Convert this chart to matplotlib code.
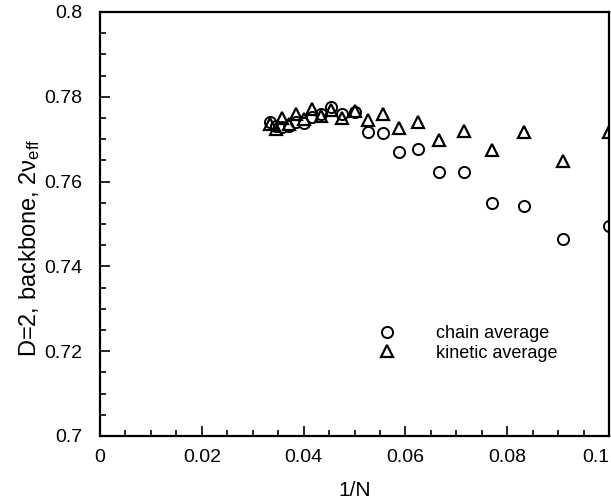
import matplotlib
matplotlib.use('Agg')
import matplotlib.pyplot as plt
from matplotlib.ticker import MultipleLocator

plt.rcParams['font.family'] = ['Liberation Sans', 'DejaVu Sans']
plt.rcParams['mathtext.fontset'] = 'custom'
plt.rcParams['mathtext.rm'] = 'Liberation Sans'
plt.rcParams['mathtext.it'] = 'Liberation Sans:italic'

# Dados: comprimento da cadeia N = 30 ... 10
N = [30, 29, 28, 27, 26, 25, 24, 23, 22, 21, 20,
     19, 18, 17, 16, 15, 14, 13, 12, 11, 10]
inv_N = [1.0 / n for n in N]

chain_avg = [0.7740, 0.7730, 0.7728, 0.7730, 0.7740, 0.7738, 0.7752,
             0.7760, 0.7775, 0.7760, 0.7763, 0.7716, 0.7715, 0.7670,
             0.7676, 0.7623, 0.7623, 0.7550, 0.7542, 0.7464, 0.7495]
kinetic_avg = [0.7735, 0.7725, 0.7749, 0.7735, 0.7759, 0.7748, 0.7771,
               0.7755, 0.7769, 0.7751, 0.7766, 0.7745, 0.7759, 0.7726,
               0.7741, 0.7698, 0.7720, 0.7675, 0.7716, 0.7649, 0.7716]

x_ticks = [0, 0.02, 0.04, 0.06, 0.08, 0.1]
x_tick_labels = ['0', '0.02', '0.04', '0.06', '0.08', '0.1']
y_ticks = [0.7, 0.72, 0.74, 0.76, 0.78, 0.8]
y_tick_labels = ['0.7', '0.72', '0.74', '0.76', '0.78', '0.8']

fig = plt.figure(figsize=(6.11, 5.0), dpi=100)
ax = fig.add_axes([0.1637, 0.128, 0.833, 0.848])

ax.plot(inv_N, chain_avg, linestyle='none', marker='o', ms=8,
        mfc='white', mec='black', mew=1.4, label='chain average')
ax.plot(inv_N, kinetic_avg, linestyle='none', marker='^', ms=9,
        mfc='none', mec='black', mew=1.6, label='kinetic average')

ax.set_xlim(0, 0.1)
ax.set_ylim(0.7, 0.8)
ax.set_xticks(x_ticks)
ax.set_xticklabels(x_tick_labels)
ax.set_yticks(y_ticks)
ax.set_yticklabels(y_tick_labels)
ax.xaxis.set_minor_locator(MultipleLocator(0.005))
ax.yaxis.set_minor_locator(MultipleLocator(0.005))

ax.tick_params(axis='both', which='both', direction='in',
               top=False, right=False, labelsize=14, width=1.2)
ax.tick_params(axis='both', which='major', length=7)
ax.tick_params(axis='both', which='minor', length=4)
ax.tick_params(axis='x', which='major', pad=9)
ax.tick_params(axis='y', which='major', pad=13)

# o ultimo rotulo do eixo x fica alinhado a direita, dentro da figura
ax.get_xticklabels()[-1].set_horizontalalignment('right')

for s in ax.spines.values():
    s.set_linewidth(1.6)

ax.set_xlabel('1/N', fontsize=15)
ax.xaxis.set_label_coords(0.5, -0.105)
ax.set_ylabel(r'D=2, backbone, 2ν$_{\mathrm{eff}}$', fontsize=17)
ax.yaxis.set_label_coords(-0.114, 0.443)

ax.legend(loc='upper left', bbox_to_anchor=(0.546, 0.262), frameon=False,
          fontsize=13, handlelength=1.0, handletextpad=2.2,
          labelspacing=0.15, borderpad=0, borderaxespad=0)

plt.savefig('out.png', dpi=100)
